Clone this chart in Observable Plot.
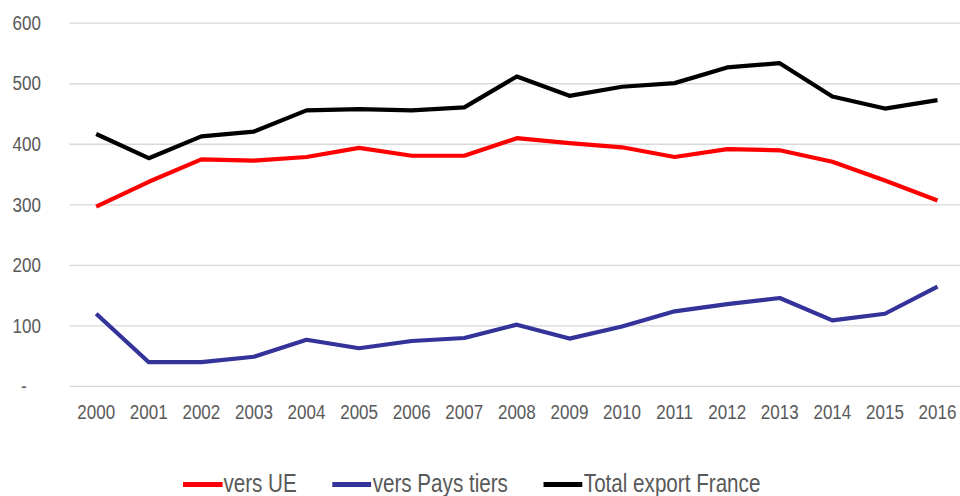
<!DOCTYPE html>
<html>
<head>
<meta charset="utf-8">
<script src="https://cdn.jsdelivr.net/npm/d3@7"></script>
<script src="https://cdn.jsdelivr.net/npm/@observablehq/plot@0.6"></script>
<style>
  html, body { margin: 0; padding: 0; background: #fff; overflow: hidden; }
  body { width: 960px; height: 496px; position: relative; font-family: "Liberation Sans", Arial, sans-serif; }
  #chart svg { max-width: none !important; display: block; }
  #legend { position: absolute; left: 183px; top: 471px; display: flex; align-items: flex-start; white-space: nowrap;
            font-size: 25px; line-height: 25px; color: #595959; transform: scaleX(0.825); transform-origin: 0 0; }
  .item { display: flex; align-items: flex-start; margin-right: 43px; }
  .sw { width: 47.5px; height: 4.5px; margin-top: 11px; margin-right: 1.5px; }
</style>
</head>
<body>
<div id="chart"></div>
<div id="legend"></div>
<script>
const years = [2000,2001,2002,2003,2004,2005,2006,2007,2008,2009,2010,2011,2012,2013,2014,2015,2016];
const versUE = [297,338,375,373,379,394,381,381,410,402,395,379,392,390,371,340,307];
const versPaysTiers = [120,40,40,49,77,63,75,80,102,79,99,124,136,146,109,120,165];
const totalExport = [417,377,413,421,456,458,456,461,512,480,495,501,527,534,479,459,473];
const seriesNames = ["vers UE", "vers Pays tiers", "Total export France"];
const seriesColors = ["#ff0000", "#333399", "#000000"];
const yTicks = [0,100,200,300,400,500,600];

const rows = [];
[versUE, versPaysTiers, totalExport].forEach((vals, s) => {
  vals.forEach((v, i) => rows.push({year: years[i], value: v, series: seriesNames[s]}));
});

const chart = Plot.plot({
  width: 964,
  height: 440,
  marginLeft: 69.4,
  marginRight: 0.7,
  marginTop: 22.7,
  marginBottom: 54.1,
  style: {fontFamily: '"Liberation Sans", Arial, sans-serif', fontSize: "21px", color: "#595959", background: "#fff", overflow: "visible", maxWidth: "none"},
  x: {type: "band", domain: years, padding: 0, round: false, label: null, tickSize: 0, tickPadding: 18, tickFormat: d => String(d)},
  y: {domain: [0, 600], label: null, ticks: yTicks, tickSize: 0, tickPadding: 29,
      tickFormat: d => d === 0 ? "-\u00a0\u00a0\u00a0" : String(d)},
  color: {domain: seriesNames, range: seriesColors},
  marks: [
    Plot.ruleY(yTicks, {stroke: "#d9d9d9", strokeWidth: 1.3, strokeOpacity: 1}),
    Plot.line(rows, {x: "year", y: "value", z: "series", stroke: "series", strokeWidth: 4.2, strokeLinejoin: "round", strokeLinecap: "butt"})
  ]
});
document.getElementById("chart").appendChild(chart);
d3.select(chart).selectAll("[aria-label='x-axis tick label'] text, [aria-label='y-axis tick label'] text")
  .attr("transform", function() { return (this.getAttribute("transform") || "") + " scale(0.81,1)"; });

const legend = document.getElementById("legend");
seriesNames.forEach((name, i) => {
  const it = document.createElement("div");
  it.className = "item";
  const sw = document.createElement("span");
  sw.className = "sw";
  sw.style.background = seriesColors[i];
  const t = document.createElement("span");
  t.textContent = name;
  it.appendChild(sw);
  it.appendChild(t);
  legend.appendChild(it);
});
</script>
</body>
</html>
